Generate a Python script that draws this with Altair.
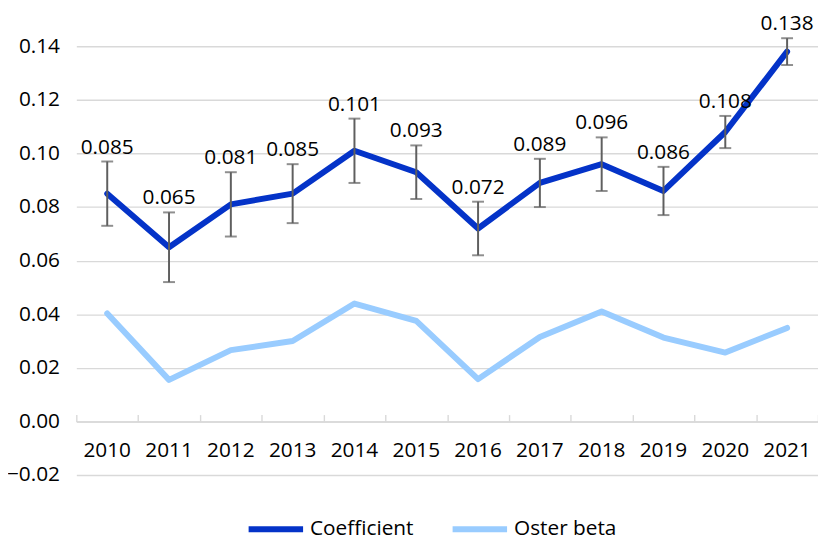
import altair as alt
import pandas as pd

years = [str(y) for y in range(2010, 2022)]
coefficient = [0.085, 0.065, 0.081, 0.085, 0.101, 0.093, 0.072, 0.089, 0.096, 0.086, 0.108, 0.138]
ci_low = [0.073, 0.052, 0.069, 0.074, 0.089, 0.083, 0.062, 0.080, 0.086, 0.077, 0.102, 0.133]
ci_high = [0.097, 0.078, 0.093, 0.096, 0.113, 0.103, 0.082, 0.098, 0.106, 0.095, 0.114, 0.143]
oster_beta = [0.0403, 0.0155, 0.0266, 0.0300, 0.0440, 0.0375, 0.0158, 0.0315, 0.0410, 0.0313, 0.0257, 0.0349]
series_names = ["Coefficient", "Oster beta"]
series_colors = ["#0433C8", "#99CCFF"]
y_ticks = [-0.02, 0.0, 0.02, 0.04, 0.06, 0.08, 0.10, 0.12, 0.14]

FONT = "Open Sans"
FS = 21

coef_df = pd.DataFrame({
    "year": years,
    "value": coefficient,
    "low": ci_low,
    "high": ci_high,
    "label": [f"{v:.3f}" for v in coefficient],
})
long_df = pd.concat([
    pd.DataFrame({"year": years, "value": coefficient, "series": series_names[0]}),
    pd.DataFrame({"year": years, "value": oster_beta, "series": series_names[1]}),
])

x_band = alt.Scale(type="band", paddingInner=0, paddingOuter=0, domain=years)
y_scale = alt.Scale(domain=[-0.02, 0.14], nice=False, zero=False)

x_axis = alt.Axis(orient="bottom", offset=-54, domain=False, ticks=False, labelPadding=18,
                  labelAngle=0, labelFontSize=FS, labelColor="black", labelFont=FONT,
                  title=None, grid=False)
y_axis = alt.Axis(values=y_ticks, format=".2f", domain=False, ticks=False, grid=True,
                  gridColor="#d9d9d9", gridWidth=1.4, labelPadding=17, labelFontSize=FS,
                  labelColor="black", labelFont=FONT, title=None)

x_main = alt.X("year:O", scale=x_band, axis=x_axis)

lines = alt.Chart(long_df).mark_line(strokeWidth=6, strokeCap="round", strokeJoin="round").encode(
    x=x_main,
    y=alt.Y("value:Q", scale=y_scale, axis=y_axis),
    color=alt.Color("series:N", scale=alt.Scale(domain=series_names, range=series_colors),
                    legend=alt.Legend(orient="none", legendX=171, legendY=457, direction="horizontal",
                                      title=None, symbolType="stroke", symbolSize=3025,
                                      symbolStrokeWidth=6, labelFontSize=FS, labelFont=FONT,
                                      labelColor="black", labelOffset=4, columnPadding=27)),
    order=alt.Order("year:O"),
)

err_rule = alt.Chart(coef_df).mark_rule(color="#5f5f5f", strokeWidth=2).encode(
    x=x_main,
    y=alt.Y("low:Q", scale=y_scale, axis=y_axis),
    y2="high:Q",
)
cap_low = alt.Chart(coef_df).mark_tick(color="#5f5f5f", thickness=2, size=12).encode(
    x=x_main,
    y=alt.Y("low:Q", scale=y_scale, axis=y_axis),
)
cap_high = alt.Chart(coef_df).mark_tick(color="#5f5f5f", thickness=2, size=12).encode(
    x=x_main,
    y=alt.Y("high:Q", scale=y_scale, axis=y_axis),
)
labels = alt.Chart(coef_df).mark_text(fontSize=FS, font=FONT, color="black", dy=-14,
                                      baseline="middle").encode(
    x=x_main,
    y=alt.Y("high:Q", scale=y_scale, axis=y_axis),
    text="label:N",
)

main = alt.layer(lines, err_rule, cap_low, cap_high, labels)

tick_layer = alt.Chart(coef_df).mark_rule(opacity=0).encode(
    x=alt.X("year:O", scale=x_band,
            axis=alt.Axis(orient="top", offset=-379, labels=False, domain=True,
                          domainColor="#d9d9d9", domainWidth=1.4, ticks=True, tickSize=7,
                          tickColor="#d9d9d9", tickWidth=1.4, tickBand="extent",
                          title=None, grid=False)),
)

chart = alt.layer(main, tick_layer).resolve_scale(x="independent").properties(
    width=749,
    height=433,
    autosize=alt.AutoSizeParams(type="none"),
    padding={"left": 69, "top": 36, "right": 0, "bottom": 66},
).configure(font=FONT).configure_view(stroke=None)

chart.save("out.html", embed_options={"renderer": "svg", "actions": False})
